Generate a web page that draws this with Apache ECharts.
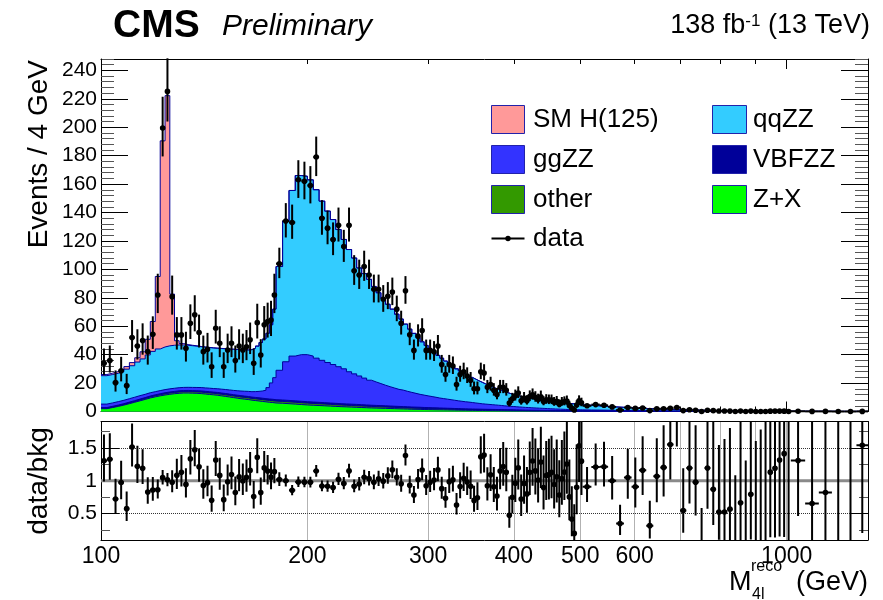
<!DOCTYPE html>
<html><head><meta charset="utf-8">
<script src="https://cdn.jsdelivr.net/npm/echarts/dist/echarts.min.js"></script>
<style>html,body{margin:0;padding:0;background:#fff}#c{width:883px;height:600px}</style>
</head><body><div id="c"></div><script>
// ---- binning: [from, to, width] in GeV ----
const binSpec = [[100,180,2],[180,504,4],[504,1014,15],[1014,1314,50]];

// ---- background components, Events / 4 GeV (low: 2 GeV bins, mid: 4 GeV bins, high: 15/50 GeV bins) ----
const zxLow = [2.0,2.8,3.6,4.5,5.5,6.5,7.5,8.5,9.5,10.3,11.0,11.6,12.1,12.5,12.8,13.0,13.0,12.9,12.8,12.6,12.3,12.0,11.7,11.4,11.0,10.6,10.2,9.8,9.4,9.0,8.7,8.4,8.0,7.7,7.4,7.1,6.8,6.5,6.3,6.0];
const zxMid = [5.8,5.5,5.2,4.9,4.6,4.4,4.2,4.0,3.8,3.6,3.4,3.25,3.1,2.95,2.8,2.65,2.5,2.4,2.3,2.2,2.1,2.0,1.9,1.8,1.7,1.6,1.55,1.5,1.4,1.35,1.3,1.25,1.2,1.15,1.1,1.05,1.0,0.95,0.9,0.87,0.84,0.8,0.77,0.74,0.71,0.68,0.65,0.62,0.6,0.57,0.55,0.53,0.5,0.48,0.46,0.44,0.42,0.4,0.38,0.37,0.35,0.34,0.32,0.31,0.3,0.28,0.27,0.26,0.25,0.24,0.23,0.22,0.21,0.2,0.19,0.18,0.17,0.16,0.16,0.15,0.14];
const zxHigh = [0.12,0.11,0.1,0.09,0.08,0.07,0.065,0.06,0.055,0.05,0.045,0.04,0.037,0.034,0.031,0.028,0.025,0.023,0.021,0.019,0.017,0.015,0.014,0.013,0.012,0.011,0.01,0.009,0.008,0.007,0.006,0.006,0.005,0.005,0.004,0.003,0.003,0.002,0.002,0.002];

const otherLow = [0.3,0.35,0.4,0.45,0.5,0.55,0.6,0.65,0.7,0.75,0.8,0.85,0.9,0.9,0.95,0.95,1.0,1.0,1.0,1.05,1.05,1.1,1.1,1.1,1.1,1.15,1.15,1.15,1.2,1.2,1.2,1.2,1.2,1.25,1.25,1.25,1.25,1.3,1.3,1.3];
const otherMid = [1.3,1.3,1.3,1.3,1.3,1.28,1.26,1.24,1.22,1.2,1.18,1.16,1.14,1.12,1.1,1.07,1.04,1.01,0.98,0.95,0.92,0.89,0.86,0.83,0.8,0.78,0.76,0.74,0.72,0.7,0.68,0.66,0.64,0.62,0.6,0.58,0.56,0.54,0.52,0.5,0.49,0.48,0.47,0.46,0.45,0.44,0.43,0.42,0.41,0.4,0.39,0.38,0.37,0.36,0.35,0.34,0.33,0.32,0.31,0.3,0.29,0.28,0.28,0.27,0.27,0.26,0.26,0.25,0.25,0.24,0.24,0.23,0.23,0.22,0.22,0.21,0.21,0.2,0.2,0.19,0.19];
const otherHigh = [0.17,0.16,0.15,0.14,0.13,0.12,0.11,0.1,0.095,0.09,0.085,0.08,0.075,0.07,0.065,0.06,0.055,0.05,0.047,0.044,0.041,0.038,0.035,0.032,0.03,0.028,0.026,0.024,0.022,0.02,0.019,0.018,0.017,0.016,0.014,0.012,0.01,0.009,0.008,0.007];

const vbfLow = [0.5,0.5,0.55,0.55,0.6,0.6,0.65,0.65,0.7,0.7,0.7,0.75,0.75,0.75,0.8,0.8,0.8,0.8,0.8,0.85,0.85,0.85,0.85,0.9,0.9,0.9,0.9,0.9,0.9,0.95,0.95,0.95,0.95,0.95,1.0,1.0,1.0,1.0,1.0,1.0];
const vbfMid = [1.0,1.0,1.0,1.0,1.0,0.99,0.98,0.97,0.96,0.95,0.94,0.93,0.92,0.91,0.9,0.89,0.88,0.87,0.86,0.85,0.84,0.83,0.82,0.81,0.8,0.78,0.76,0.74,0.72,0.7,0.68,0.66,0.64,0.62,0.6,0.58,0.56,0.54,0.52,0.5,0.49,0.48,0.47,0.46,0.45,0.44,0.43,0.42,0.41,0.4,0.39,0.38,0.37,0.36,0.35,0.34,0.33,0.32,0.31,0.3,0.29,0.28,0.28,0.27,0.27,0.26,0.26,0.25,0.25,0.24,0.24,0.23,0.23,0.22,0.22,0.21,0.21,0.2,0.2,0.19,0.19];
const vbfHigh = [0.18,0.17,0.16,0.15,0.14,0.13,0.12,0.11,0.1,0.095,0.09,0.085,0.08,0.075,0.07,0.065,0.06,0.055,0.05,0.047,0.044,0.041,0.038,0.035,0.032,0.03,0.028,0.026,0.024,0.022,0.02,0.019,0.018,0.017,0.015,0.013,0.011,0.01,0.009,0.008];

const ggLow = [2.4,2.4,2.4,2.4,2.4,2.4,2.4,2.3,2.3,2.2,2.2,2.2,2.2,2.2,2.2,2.2,2.2,2.25,2.3,2.35,2.4,2.45,2.5,2.6,2.7,2.8,2.9,3.0,3.1,3.25,3.4,3.6,3.8,4.1,4.5,5.1,5.9,8.0,11.5,15.5];
const ggMid = [20.9,27.2,31.5,32.8,33.1,32.3,31.1,29.8,28.5,27.3,26.0,24.7,22.8,21.5,20.2,18.9,17.6,16.5,15.5,14.5,13.6,12.8,12.0,11.6,10.9,10.3,9.7,9.1,8.7,8.25,7.85,7.45,7.0,6.7,6.4,6.1,5.8,5.5,5.25,5.0,4.8,4.55,4.3,4.05,3.8,3.65,3.5,3.35,3.2,3.05,2.9,2.7,2.55,2.4,2.35,2.2,2.1,2.0,1.9,1.83,1.72,1.65,1.57,1.5,1.41,1.35,1.26,1.19,1.12,1.08,1.01,0.97,0.91,0.86,0.82,0.8,0.76,0.74,0.69,0.67,0.63];
const ggHigh = [0.6,0.55,0.5,0.45,0.41,0.37,0.34,0.3,0.27,0.25,0.22,0.2,0.18,0.16,0.15,0.13,0.12,0.11,0.1,0.09,0.08,0.072,0.065,0.06,0.054,0.048,0.044,0.04,0.036,0.033,0.03,0.027,0.024,0.022,0.018,0.015,0.013,0.011,0.009,0.008];

const qqLow = [20.0,19.95,19.95,20.1,20.8,22.15,23.65,24.9,26.6,28.35,29.3,30.0,30.25,30.25,30.05,29.85,29.6,29.35,29.1,28.75,28.7,28.6,28.55,28.5,28.6,28.65,28.75,28.95,29.0,29.1,29.15,29.15,29.55,30.5,31.85,34.05,36.05,38.2,40.9,48.2];
const qqMid = [73,99,116.5,126,125.5,124,118.5,112,106.5,102,96.5,91,86,81.5,76,73.5,71,67.2,63.9,61,58,55.5,52.9,50,47.3,44.5,42.2,39.9,37.5,35.5,33.5,31.5,30,28.4,26.8,25.2,23.6,22.5,21.3,20.1,18.9,17.7,16.8,15.9,15.1,14.2,13.4,12.6,11.9,11.2,10.6,10,9.5,9.0,8.5,8.1,7.7,7.35,7.0,6.7,6.65,6.45,6.25,6.05,5.85,5.65,5.55,5.35,5.23,5.1,4.98,4.85,4.72,4.6,4.45,4.3,4.15,4.0,3.85,3.7,3.55];
const qqHigh = [3.33,3.01,2.69,2.42,2.19,1.96,1.765,1.58,1.43,1.265,1.14,1.015,0.908,0.811,0.724,0.657,0.59,0.532,0.482,0.43,0.388,0.344,0.308,0.28,0.252,0.223,0.202,0.181,0.16,0.148,0.135,0.12,0.106,0.095,0.079,0.067,0.053,0.043,0.034,0.027];

const smhLow = [0.8,1.0,1.2,1.5,1.8,2.2,3.0,5.0,11,21,51,145,176,36,3,1.0,0.5,0.3,0.2,0.15,0.12,0.1,0.1,0.08,0.08,0.07,0.07,0.06,0.06,0.05,0.05,0.05,0.05,0.05,0.05,0.05,0.05,0.05,0.05,0.05];
const smhRest = new Array(121).fill(0);

// ---- observed data, Events / 4 GeV ----
const dataLow = [33.9,35.8,20.3,28.7,18.2,52,46.1,49.9,42.1,54.4,82,199.4,225.2,80.8,53.9,53.9,44.5,62.1,68,55.5,42.1,43.8,31.5,58.6,48,31.5,43.3,48,35.8,46.1,43.3,45.6,50.4,33.9,62.5,39.8,61,63.2,64.4,82];
const dataMid = [104,134,133,163,162,159,179,136,129,121,131,116,131,99,96,102,96,86,86,79,81,84,72,62,85,54,43,53,57,43,43,42,46,33,26,33,32,19,26,28,25,22,16,16,28,27,17,19,15,12,17,17,15,6,9,11,13,7.5,9.5,7.6,10.5,11.7,10,8.5,10.4,7,8.2,8,8,6.5,7.1,5.1,6.5,6.9,7.4,4.3,2.3,1.06,4.6,7.5,6.1];
const dataHigh = [4.0,4.84,4.36,3.25,1.03,2.78,2.18,2.49,0.62,1.87,1.9,2.2,2.8,0.63,1.24,0.92,0,0.92,0.61,0.33,0.3,0.29,0,0.28,0,0.27,0,0,0,0.26,0.25,0.25,0.24,0,0.17,0.072,0.074,0,0,0.08];

// ---- tick / label values (GeV) ----
const xLabelVals = [100,200,300,400,500,600,1000];
const xMajorTicks = [100,1000];
const xMinorTicks = [200,300,400,500,600,700,800,900];
const xGridVals = [200,300,400,500,600,700,800,900,1000];
const yMajorVals = [0,20,40,60,80,100,120,140,160,180,200,220,240];
const rMajorVals = [0.5,1,1.5];
const rMinorVals = [0.25,0.75,1.25,1.75];

// ---------------------------------------------------------------
const edges = [];
binSpec.forEach(s => { for (let e = s[0]; e < s[1] - 1e-6; e += s[2]) edges.push(e); });
edges.push(binSpec[binSpec.length-1][1]);
const nb = edges.length - 1;
const L = Math.log10;
const X0 = L(100), X1 = L(1314);

const comps = [
  {name:'Z+X', vals: zxLow.concat(zxMid, zxHigh), color:'#00ff00'},
  {name:'other', vals: otherLow.concat(otherMid, otherHigh), color:'#339900'},
  {name:'VBFZZ', vals: vbfLow.concat(vbfMid, vbfHigh), color:'#000099'},
  {name:'ggZZ', vals: ggLow.concat(ggMid, ggHigh), color:'#3333ff'},
  {name:'qqZZ', vals: qqLow.concat(qqMid, qqHigh), color:'#33ccff'},
  {name:'SM H(125)', vals: smhLow.concat(smhRest), color:'#ff9999'}
];
const DATA = dataLow.concat(dataMid, dataHigh);

// cumulative stack (bottom -> top)
const cum = [];
comps.forEach((c, k) => cum.push(c.vals.map((v, i) => v + (k ? cum[k-1][i] : 0))));

function stepData(vals){
  const d = [];
  for (let i = 0; i < nb; i++){ d.push([L(edges[i]), vals[i]]); d.push([L(edges[i+1]), vals[i]]); }
  return d;
}
const dataTop = [], dataRatio = [];
for (let i = 0; i < nb; i++){
  const w = (edges[i+1]-edges[i])/4;
  const y = DATA[i], N = y*w;
  const up = N + 1 + Math.sqrt(N + 0.75);
  const lo = N > 0.25 ? N - Math.sqrt(N - 0.25) : 0;
  const tot = cum[cum.length-1][i];
  const x0 = L(edges[i]), x1 = L(edges[i+1]), xc = L((edges[i]+edges[i+1])/2);
  dataTop.push([x0,x1,xc,y,lo/w,up/w]);
  dataRatio.push([x0,x1,xc,y/tot,lo/w/tot,up/w/tot]);
}

function errRender(params, api){
  const x0 = api.value(0), x1 = api.value(1), xc = api.value(2);
  const y = api.value(3), ylo = api.value(4), yhi = api.value(5);
  const pC = api.coord([xc,y]), pL = api.coord([x0,y]), pR = api.coord([x1,y]);
  const pLo = api.coord([xc,ylo]), pHi = api.coord([xc,yhi]);
  const st = {stroke:'#000', lineWidth:2};
  return {type:'group', children:[
    {type:'line', shape:{x1:pC[0],y1:pLo[1],x2:pC[0],y2:pHi[1]}, style:st},
    {type:'line', shape:{x1:pL[0],y1:pC[1],x2:pR[0],y2:pC[1]}, style:st},
    {type:'circle', shape:{cx:pC[0],cy:pC[1],r:2.8}, style:{fill:'#000'}}
  ]};
}

const FF = '"Liberation Sans", Arial, Helvetica, sans-serif';
const black = '#000';
function xAx(grid, pos, o){ return Object.assign({type:'value', gridIndex:grid, position:pos, min:X0, max:X1,
  axisLine:{show:false, onZero:false}, axisTick:{show:false}, axisLabel:{show:false}, splitLine:{show:false}}, o); }
function yAx(grid, pos, mn, mx, o){ return Object.assign({type:'value', gridIndex:grid, position:pos, min:mn, max:mx,
  axisLine:{show:false, onZero:false}, axisTick:{show:false}, axisLabel:{show:false}, splitLine:{show:false}}, o); }
const frameLine = {show:true, onZero:false, lineStyle:{color:black, width:1}};
const tk = (vals, len, col) => ({show:true, inside:true, length:len, customValues:vals, lineStyle:{color:col||black, width:1}});

const yMinorVals = [];
for (let v = 4; v <= 248; v += 4) if (v % 20 !== 0) yMinorVals.push(v);

// histogram layers drawn top-down, each filled to the axis (painter's order gives the stack)
const histSeries = [];
for (let k = comps.length - 1; k >= 0; k--){
  histSeries.push({
    type:'line', name:comps[k].name, xAxisIndex:0, yAxisIndex:0,
    data: stepData(cum[k]), symbol:'none', showSymbol:false, z:2,
    lineStyle:{color:'#000099', width:1}, itemStyle:{color:comps[k].color},
    areaStyle:{color:comps[k].color, opacity:1, origin:'start'}
  });
}

const option = {
  animation:false,
  backgroundColor:'#fff',
  textStyle:{fontFamily:FF},
  grid:[
    {left:101, top:59, width:767, height:352.5},
    {left:101, top:421.5, width:767, height:118.5}
  ],
  xAxis:[
    xAx(0,'bottom',{axisLine:frameLine, axisTick:tk(xMajorTicks.map(L),10)}),
    xAx(0,'bottom',{axisTick:tk(xMinorTicks.map(L),5)}),
    xAx(0,'top',{axisLine:frameLine, axisTick:tk(xMajorTicks.map(L),10)}),
    xAx(0,'top',{axisTick:tk(xMinorTicks.map(L),5)}),
    xAx(1,'bottom',{axisLine:frameLine,
      axisTick:{show:false, customValues:xGridVals.map(L)},
      splitLine:{show:true, lineStyle:{color:'#666', type:'dotted', width:1}},
      axisLabel:{show:true, customValues:xLabelVals.map(L), color:black, fontSize:23, fontFamily:FF, margin:5,
        formatter:v => String(Math.round(Math.pow(10,v)))}}),
    xAx(1,'top',{axisLine:frameLine})
  ],
  yAxis:[
    yAx(0,'left',0,248,{axisLine:frameLine, axisTick:tk(yMajorVals,27),
      axisLabel:{show:true, customValues:yMajorVals, color:black, fontSize:21, fontFamily:FF, margin:4}}),
    yAx(0,'left',0,248,{axisTick:tk(yMinorVals,13,'#555')}),
    yAx(0,'right',0,248,{axisLine:frameLine, axisTick:tk(yMajorVals,27)}),
    yAx(0,'right',0,248,{axisTick:tk(yMinorVals,13,'#555')}),
    yAx(1,'left',0.1,1.9,{axisLine:frameLine, axisTick:tk(rMajorVals,18),
      splitLine:{show:true, lineStyle:{color:'#333', type:'dotted', width:1}},
      axisLabel:{show:true, customValues:rMajorVals, color:black, fontSize:21, fontFamily:FF, margin:4}}),
    yAx(1,'left',0.1,1.9,{axisTick:tk(rMinorVals,9,'#555')}),
    yAx(1,'right',0.1,1.9,{axisLine:frameLine, axisTick:tk(rMajorVals,18)}),
    yAx(1,'right',0.1,1.9,{axisTick:tk(rMinorVals,9,'#555')})
  ],
  series: histSeries.concat([
    {type:'custom', name:'data', xAxisIndex:0, yAxisIndex:0, clip:false, z:5,
      renderItem: errRender, encode:{x:[0,1,2], y:[3,4,5]}, data: dataTop},
    {type:'line', name:'unity', xAxisIndex:4, yAxisIndex:4, data:[[X0,1],[X1,1]], symbol:'none', z:2,
      lineStyle:{color:'#8a8a8a', width:3}},
    {type:'custom', name:'ratio', xAxisIndex:4, yAxisIndex:4, clip:true, z:5,
      renderItem: errRender, encode:{x:[0,1,2], y:[3,4,5]}, data: dataRatio}
  ]),
  graphic:[
    {type:'text', x:113, y:26, style:{text:'CMS', fontFamily:FF, fontWeight:'bold', fontSize:39, fill:black, align:'left', verticalAlign:'middle'}},
    {type:'text', x:222, y:27, style:{text:'Preliminary', fontFamily:FF, fontStyle:'italic', fontSize:30, fill:black, align:'left', verticalAlign:'middle'}},
    {type:'text', x:870, y:26, style:{text:'{a|138 fb}{s|-1}{a| (13 TeV)}', align:'right', verticalAlign:'middle', fill:black,
      rich:{a:{fontFamily:FF, fontSize:27, fill:black}, s:{fontFamily:FF, fontSize:17, fill:black, verticalAlign:'top'}}}},
    {type:'text', x:39, y:60, rotation:Math.PI/2, style:{text:'Events / 4 GeV', fontFamily:FF, fontSize:28, fill:black, align:'right', verticalAlign:'middle'}},
    {type:'text', x:39, y:481, rotation:Math.PI/2, style:{text:'data/bkg', fontFamily:FF, fontSize:28, fill:black, align:'center', verticalAlign:'middle'}},
    {type:'text', x:729, y:583, style:{text:'M', fontFamily:FF, fontSize:27, fill:black, align:'left', verticalAlign:'middle'}},
    {type:'text', x:751, y:567, style:{text:'reco', fontFamily:FF, fontSize:16, fill:black, align:'left', verticalAlign:'middle'}},
    {type:'text', x:752, y:595, style:{text:'4l', fontFamily:FF, fontSize:16, fill:black, align:'left', verticalAlign:'middle'}},
    {type:'text', x:868, y:583, style:{text:'(GeV)', fontFamily:FF, fontSize:27, fill:black, align:'right', verticalAlign:'middle'}},
    // legend
    {type:'rect', shape:{x:491.5,y:105.5,width:33,height:28}, style:{fill:'#ff9999', stroke:'#2222aa', lineWidth:1}},
    {type:'rect', shape:{x:491.5,y:145.5,width:33,height:28}, style:{fill:'#3333ff', stroke:'#2222aa', lineWidth:1}},
    {type:'rect', shape:{x:491.5,y:185.5,width:33,height:28}, style:{fill:'#339900', stroke:'#2222aa', lineWidth:1}},
    {type:'line', shape:{x1:491.5,y1:238.5,x2:524.5,y2:238.5}, style:{stroke:black, lineWidth:2}},
    {type:'circle', shape:{cx:508,cy:238.5,r:2.7}, style:{fill:black}},
    {type:'rect', shape:{x:712.5,y:105.5,width:34,height:28}, style:{fill:'#33ccff', stroke:'#2222aa', lineWidth:1}},
    {type:'rect', shape:{x:712.5,y:145.5,width:34,height:28}, style:{fill:'#000099', stroke:'#2222aa', lineWidth:1}},
    {type:'rect', shape:{x:712.5,y:185.5,width:34,height:28}, style:{fill:'#00ff00', stroke:'#2222aa', lineWidth:1}},
    {type:'text', x:533, y:120, style:{text:'SM H(125)', fontFamily:FF, fontSize:26, fill:black, verticalAlign:'middle'}},
    {type:'text', x:533, y:160, style:{text:'ggZZ', fontFamily:FF, fontSize:26, fill:black, verticalAlign:'middle'}},
    {type:'text', x:533, y:200, style:{text:'other', fontFamily:FF, fontSize:26, fill:black, verticalAlign:'middle'}},
    {type:'text', x:533, y:239, style:{text:'data', fontFamily:FF, fontSize:26, fill:black, verticalAlign:'middle'}},
    {type:'text', x:753, y:120, style:{text:'qqZZ', fontFamily:FF, fontSize:26, fill:black, verticalAlign:'middle'}},
    {type:'text', x:753, y:160, style:{text:'VBFZZ', fontFamily:FF, fontSize:26, fill:black, verticalAlign:'middle'}},
    {type:'text', x:753, y:200, style:{text:'Z+X', fontFamily:FF, fontSize:26, fill:black, verticalAlign:'middle'}}
  ]
};
const chart = echarts.init(document.getElementById('c'), null, {renderer:'canvas'});
chart.setOption(option);
</script></body></html>
